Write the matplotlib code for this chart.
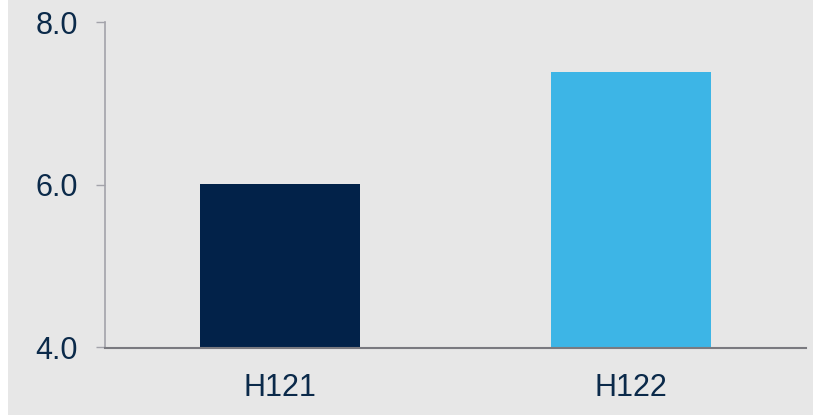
import matplotlib.pyplot as plt
from matplotlib.patches import Rectangle

categories = ["H121", "H122"]
values = [6.01, 7.39]
bar_colors = ["#022249", "#3db5e6"]
yticks = [4.0, 6.0, 8.0]

bg = "#e7e7e7"
text_color = "#0b2a4a"

plt.rcParams["font.family"] = ["Liberation Sans", "DejaVu Sans"]

fig = plt.figure(figsize=(8.13, 4.15), dpi=100)
fig.patch.set_facecolor(bg)
# thin white strip on the left edge
fig.patches.append(Rectangle((0, 0), 8 / 813, 1, transform=fig.transFigure,
                             facecolor="white", edgecolor="none", zorder=0))

ax = fig.add_axes([105 / 813, 1 - 347.5 / 415, 701 / 813, 325 / 415])
ax.set_facecolor(bg)

ax.bar(range(len(categories)), values, width=0.457, color=bar_colors, zorder=2)

ax.set_xlim(-0.5, 1.5)
ax.set_ylim(4.0, 8.0)
ax.set_yticks(yticks)
ax.set_yticklabels([f"{t:.1f}" for t in yticks])
ax.set_xticks(range(len(categories)))
ax.set_xticklabels(categories)

for s in ["top", "right"]:
    ax.spines[s].set_visible(False)
ax.spines["left"].set_color("#a3a3aa")
ax.spines["left"].set_linewidth(1.2)
ax.spines["bottom"].set_color("#7a7a80")
ax.spines["bottom"].set_linewidth(1.5)
ax.spines["bottom"].set_zorder(3)

ax.tick_params(axis="y", length=6.5, width=1, color="#a3a3aa", pad=13,
               labelsize=22, labelcolor=text_color)
ax.tick_params(axis="x", length=0, pad=18, labelsize=22, labelcolor=text_color)

fig.savefig("out.png", dpi=100, facecolor=bg)
